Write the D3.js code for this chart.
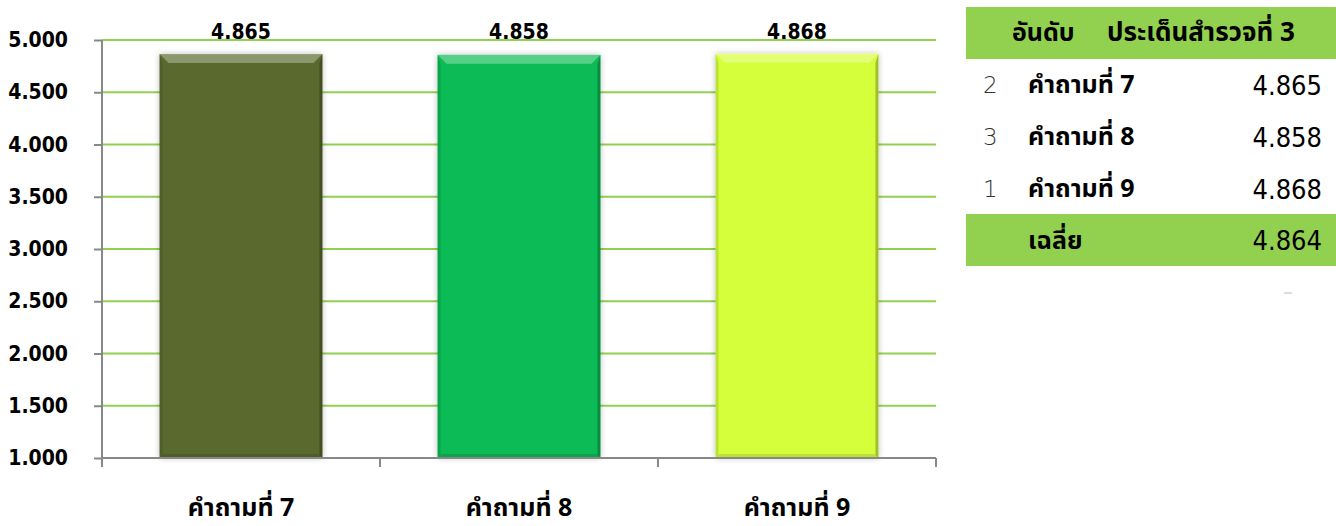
<!DOCTYPE html>
<html><head><meta charset="utf-8">
<script src="https://cdn.jsdelivr.net/npm/d3@7"></script>
<style>
html,body{margin:0;padding:0;background:#fff;}
svg{display:block;}
</style></head>
<body>
<svg id="chart" width="1336" height="526"></svg>
<script>
const categories = ["คำถามที่ 7", "คำถามที่ 8", "คำถามที่ 9"];
const values = [4.865, 4.858, 4.868];
const ranks = [2, 3, 1];
const barColors = ["#5a6a2f", "#08bb57", "#d6ff3a"];
const yTicks = [1.0, 1.5, 2.0, 2.5, 3.0, 3.5, 4.0, 4.5, 5.0];
const tableTitle = ["อันดับ", "ประเด็นสำรวจที่ 3"];
const averageLabel = "เฉลี่ย";
const averageValue = 4.864;

const svg = d3.select("#chart");
const fmt = d3.format(".3f");
const thaiFont = "Tahoma, 'Noto Sans Thai', 'Leelawadee UI', 'Noto Sans', sans-serif";
const numFont = "'DejaVu Sans Condensed', 'DejaVu Sans', sans-serif";

const x = d3.scaleBand().domain(categories).range([102, 936]).paddingInner(0.414).paddingOuter(0.207);
const y = d3.scaleLinear().domain([1, 5]).range([458, 40]);

// defs: shadow
const defs = svg.append("defs");
const f = defs.append("filter").attr("id", "sh").attr("x", "-10%").attr("y", "-10%").attr("width", "120%").attr("height", "120%");
f.append("feGaussianBlur").attr("in", "SourceAlpha").attr("stdDeviation", 3).attr("result", "b");
f.append("feOffset").attr("in", "b").attr("dx", 0).attr("dy", 0).attr("result", "o");
f.append("feComponentTransfer").attr("in", "o").attr("result", "o2").append("feFuncA").attr("type", "linear").attr("slope", 0.25);
const m = f.append("feMerge");
m.append("feMergeNode").attr("in", "o2");
m.append("feMergeNode").attr("in", "SourceGraphic");

// gridlines
svg.append("g").selectAll("line").data(yTicks.filter(d => d > 1)).join("line")
  .attr("x1", 102).attr("x2", 936)
  .attr("y1", d => y(d)).attr("y2", d => y(d))
  .attr("stroke", "#92d050").attr("stroke-width", 2);

// bars
const bars = svg.append("g").selectAll("g").data(categories).join("g");
bars.append("rect")
  .attr("x", d => x(d)).attr("width", x.bandwidth())
  .attr("y", (d, i) => y(values[i])).attr("height", (d, i) => y(1) - y(values[i]))
  .attr("fill", (d, i) => barColors[i])
  .attr("filter", "url(#sh)");
bars.append("path")
  .attr("d", (d, i) => {
    const x0 = x(d), x1 = x(d) + x.bandwidth(), t = y(values[i]), b = 9;
    return `M${x0},${t}L${x1},${t}L${x1 - b},${t + b}L${x0 + b},${t + b}Z`;
  })
  .attr("fill", "#fff").attr("opacity", 0.3);
bars.append("path")
  .attr("d", (d, i) => {
    const x1 = x(d) + x.bandwidth(), t = y(values[i]), b = 3;
    return `M${x1},${t}L${x1},${y(1)}L${x1 - b},${y(1) - b}L${x1 - b},${t + 9}Z`;
  })
  .attr("fill", "#000").attr("opacity", 0.25);
bars.append("path")
  .attr("d", (d, i) => {
    const x0 = x(d), t = y(values[i]), b = 3;
    return `M${x0},${t}L${x0},${y(1)}L${x0 + b},${y(1) - b}L${x0 + b},${t + 9}Z`;
  })
  .attr("fill", "#000").attr("opacity", 0.12);
bars.append("path")
  .attr("d", (d, i) => {
    const x0 = x(d), x1 = x(d) + x.bandwidth(), bt = y(1), b = 4;
    return `M${x0},${bt}L${x1},${bt}L${x1 - b},${bt - b}L${x0 + b},${bt - b}Z`;
  })
  .attr("fill", "#000").attr("opacity", 0.12);

// value labels
svg.append("g").selectAll("text").data(categories).join("text")
  .attr("x", d => x(d) + x.bandwidth() / 2).attr("y", 39)
  .attr("text-anchor", "middle")
  .attr("font-family", numFont).attr("font-weight", "bold").attr("font-size", 21)
  .attr("fill", "#000")
  .text((d, i) => fmt(values[i]));

// y axis
const yAxis = svg.append("g").attr("transform", "translate(102,0)")
  .call(d3.axisLeft(y).tickValues(yTicks).tickFormat(fmt).tickSize(8).tickPadding(26));
yAxis.select(".domain").attr("stroke", "#888").attr("stroke-width", 2).attr("d", "M0,40V458");
yAxis.selectAll(".tick line").attr("stroke", "#888").attr("stroke-width", 2);
yAxis.selectAll(".tick text").attr("font-family", numFont).attr("font-weight", "bold").attr("font-size", 21).attr("fill", "#000");

// x axis
svg.append("line").attr("x1", 102).attr("x2", 936).attr("y1", y(1)).attr("y2", y(1)).attr("stroke", "#888").attr("stroke-width", 2);
const xb = [0, 1, 2, 3].map(i => 102 + i * x.step());
svg.append("g").selectAll("line").data(xb).join("line")
  .attr("x1", d => d).attr("x2", d => d).attr("y1", y(1)).attr("y2", y(1) + 9)
  .attr("stroke", "#888").attr("stroke-width", 2);
svg.append("g").selectAll("text").data(categories).join("text")
  .attr("x", d => x(d) + x.bandwidth() / 2).attr("y", 516)
  .attr("text-anchor", "middle")
  .attr("font-family", thaiFont).attr("font-weight", "bold").attr("font-size", 25)
  .attr("fill", "#000").text(d => d);

// table
const tg = svg.append("g");
tg.append("rect").attr("x", 966).attr("y", 7).attr("width", 370).attr("height", 52).attr("fill", "#92d050");
tg.append("text").attr("x", 1012).attr("y", 41).attr("font-family", thaiFont).attr("font-weight", "bold").attr("font-size", 25).text(tableTitle[0]);
tg.append("text").attr("x", 1107).attr("y", 41).attr("font-family", thaiFont).attr("font-weight", "bold").attr("font-size", 26).text(tableTitle[1]);
const rowY = [93, 145, 197];
categories.forEach((c, i) => {
  tg.append("text").attr("x", 983).attr("y", rowY[i]).attr("font-family", "'DejaVu Sans', sans-serif").attr("font-weight", 300).attr("font-size", 23).attr("fill", "#333").text(ranks[i]);
  tg.append("text").attr("x", 1028).attr("y", rowY[i]).attr("font-family", thaiFont).attr("font-weight", "bold").attr("font-size", 25).text(c);
  tg.append("text").attr("x", 1322).attr("y", rowY[i] + 2).attr("text-anchor", "end").attr("font-family", numFont).attr("font-size", 27).text(fmt(values[i]));
});
tg.append("rect").attr("x", 966).attr("y", 214).attr("width", 370).attr("height", 52).attr("fill", "#92d050");
tg.append("text").attr("x", 1028).attr("y", 249).attr("font-family", thaiFont).attr("font-weight", "bold").attr("font-size", 25).text(averageLabel);
tg.append("text").attr("x", 1322).attr("y", 250).attr("text-anchor", "end").attr("font-family", numFont).attr("font-size", 27).text(fmt(averageValue));
tg.append("line").attr("x1", 1284).attr("x2", 1292).attr("y1", 293).attr("y2", 293).attr("stroke", "#ddd").attr("stroke-width", 2);
</script>
</body></html>
